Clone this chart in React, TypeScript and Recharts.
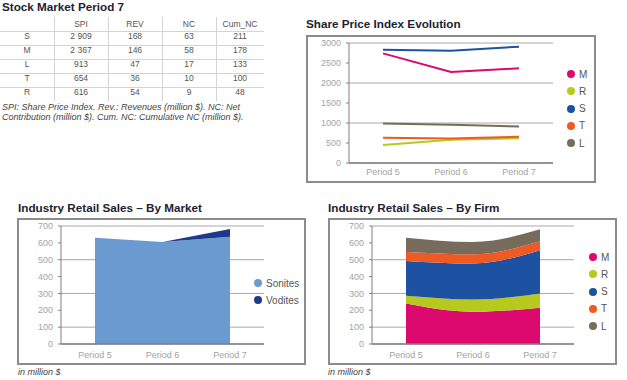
import React from 'react';
import { LineChart, Line, AreaChart, Area, XAxis, YAxis, CartesianGrid, Legend } from 'recharts';

const FONT = "'Liberation Sans', Arial, sans-serif";

// ---------- Stock market table ----------
const tableFirms = ['S', 'M', 'L', 'T', 'R'];
const tableColumns = ['SPI', 'REV', 'NC', 'Cum_NC'];
const tableSpi = [2909, 2367, 913, 654, 616];
const tableRev = [168, 146, 47, 36, 54];
const tableNc = [63, 58, 17, 10, 9];
const tableCumNc = [211, 178, 133, 100, 48];

// ---------- Shared categories ----------
const periods = ['Period 5', 'Period 6', 'Period 7'];

// ---------- Share Price Index Evolution ----------
const spiM = [2740, 2275, 2367];
const spiR = [450, 580, 616];
const spiS = [2830, 2805, 2909];
const spiT = [630, 615, 654];
const spiL = [990, 955, 913];
const spiTicks = [0, 500, 1000, 1500, 2000, 2500, 3000];
const spiMinorTicks = [0, 100, 200, 300, 400, 500, 600, 700, 800, 900, 1000, 1100, 1200, 1300, 1400, 1500, 1600, 1700, 1800, 1900, 2000, 2100, 2200, 2300, 2400, 2500, 2600, 2700, 2800, 2900, 3000];

// ---------- Industry retail sales by market ----------
const sonites = [630, 605, 636];
const vodites = [0, 0, 46];
const salesTicks = [0, 100, 200, 300, 400, 500, 600, 700];
const salesMinorTicks = [0, 20, 40, 60, 80, 100, 120, 140, 160, 180, 200, 220, 240, 260, 280, 300, 320, 340, 360, 380, 400, 420, 440, 460, 480, 500, 520, 540, 560, 580, 600, 620, 640, 660, 680, 700];

// ---------- Industry retail sales by firm ----------
const firmM = [240, 191, 215];
const firmR = [46, 73, 85];
const firmS = [207, 213, 256];
const firmT = [53, 55, 53];
const firmL = [85, 73, 71];

const boundTicks = [0, 1, 2, 3];

const firmColors: Record<string, string> = {
  M: '#dc0a6e',
  R: '#b7c91c',
  S: '#1d51a2',
  T: '#ef5a24',
  L: '#776b5c',
};
const marketColors: Record<string, string> = {
  Sonites: '#6b9ad0',
  Vodites: '#1b3a8c',
};

const spiSeries = [
  { key: 'M', values: spiM },
  { key: 'R', values: spiR },
  { key: 'S', values: spiS },
  { key: 'T', values: spiT },
  { key: 'L', values: spiL },
];
const firmSeries = [
  { key: 'M', values: firmM },
  { key: 'R', values: firmR },
  { key: 'S', values: firmS },
  { key: 'T', values: firmT },
  { key: 'L', values: firmL },
];
const marketSeries = [
  { key: 'Sonites', values: sonites },
  { key: 'Vodites', values: vodites },
];

const buildRows = (series: { key: string; values: number[] }[]) =>
  periods.map((p, i) => {
    const row: Record<string, string | number> = { period: p };
    series.forEach((s) => {
      row[s.key] = s.values[i];
    });
    return row;
  });

const spiData = buildRows(spiSeries);
const firmData = buildRows(firmSeries);
const marketData = buildRows(marketSeries);

const fmt = (n: number) => String(n).replace(/\B(?=(\d{3})+(?!\d))/g, ' ');

const AXIS = '#808080';
const TICK_TEXT = { fill: '#a3a3a3', fontSize: 9, fontFamily: FONT };

const DotLegend = ({ items, gap }: { items: { name: string; color: string }[]; gap: number }) => (
  <div style={{ fontFamily: FONT, fontSize: 10, color: '#555' }}>
    {items.map((it) => (
      <div key={it.name} style={{ display: 'flex', alignItems: 'center', height: gap }}>
        <span
          style={{
            width: 8,
            height: 8,
            borderRadius: '50%',
            background: it.color,
            display: 'inline-block',
            marginRight: 4,
            flex: 'none',
          }}
        />
        <span>{it.name}</span>
      </div>
    ))}
  </div>
);

const Title = ({ text, left, top }: { text: string; left: number; top: number }) => (
  <div
    style={{
      position: 'absolute',
      left,
      top,
      fontFamily: FONT,
      fontWeight: 'bold',
      fontSize: 11.7,
      lineHeight: '12px',
      color: '#1e2230',
      whiteSpace: 'nowrap',
    }}
  >
    {text}
  </div>
);

const Note = ({ text, left, top }: { text: string; left: number; top: number }) => (
  <div
    style={{
      position: 'absolute',
      left,
      top,
      fontFamily: FONT,
      fontStyle: 'italic',
      fontSize: 9,
      lineHeight: '10.3px',
      color: '#444',
      whiteSpace: 'pre',
    }}
  >
    {text}
  </div>
);

const boxStyle = (left: number, top: number, width: number, height: number): React.CSSProperties => ({
  position: 'absolute',
  left,
  top,
  width,
  height,
  border: '2px solid #8c8c8c',
  boxSizing: 'border-box',
  background: '#fff',
});

const StockTable = () => {
  const colLefts = [0, 54, 108, 162, 216];
  const colWidths = [54, 54, 54, 54, 48];
  const columnsData = [tableSpi, tableRev, tableNc, tableCumNc];
  const cellText: React.CSSProperties = {
    position: 'absolute',
    fontFamily: FONT,
    fontSize: 8.5,
    lineHeight: '8.5px',
    color: '#555',
    textAlign: 'center',
    whiteSpace: 'nowrap',
  };
  const headerTop = 19.5;
  const rowTop = (i: number) => 32.3 + i * 14;
  return (
    <>
      {[31, 45, 59, 73, 87].map((y) => (
        <div key={'h' + y} style={{ position: 'absolute', left: 0, top: y, width: 264, height: 1, background: '#d4d4d4' }} />
      ))}
      {[54, 108, 162, 216].map((x) => (
        <div key={'v' + x} style={{ position: 'absolute', left: x, top: 17, width: 1, height: 84, background: '#d4d4d4' }} />
      ))}
      {tableColumns.map((c, ci) => (
        <div key={c} style={{ ...cellText, left: colLefts[ci + 1], width: colWidths[ci + 1], top: headerTop }}>
          {c}
        </div>
      ))}
      {tableFirms.map((f, ri) => (
        <React.Fragment key={f}>
          <div style={{ ...cellText, left: colLefts[0], width: colWidths[0], top: rowTop(ri) }}>{f}</div>
          {columnsData.map((col, ci) => (
            <div key={ci} style={{ ...cellText, left: colLefts[ci + 1], width: colWidths[ci + 1], top: rowTop(ri) }}>
              {fmt(col[ri])}
            </div>
          ))}
        </React.Fragment>
      ))}
    </>
  );
};

export default function App() {
  return (
    <div style={{ position: 'absolute', left: 0, top: 0, width: 627, height: 380, background: '#fff', overflow: 'hidden' }}>
      {/* Table */}
      <Title text="Stock Market Period 7" left={2} top={1} />
      <StockTable />
      <Note
        text={'SPI: Share Price Index. Rev.: Revenues (million $). NC: Net\nContribution (million $). Cum. NC: Cumulative NC (million $).'}
        left={2}
        top={102}
      />

      {/* Share Price Index Evolution */}
      <Title text="Share Price Index Evolution" left={306} top={18} />
      <div style={boxStyle(306, 35, 290, 148)}>
        <LineChart width={286} height={144} data={spiData} margin={{ top: 6, right: 41, bottom: 0, left: 0 }}>
          <CartesianGrid vertical={false} stroke="#a8a8a8" />
          <XAxis
            dataKey="period"
            padding={{ left: 34, right: 34 }}
            height={18}
            interval={0}
            tickLine={false}
            tickSize={3}
            tickMargin={3}
            axisLine={{ stroke: AXIS, strokeWidth: 1.5 }}
            tick={TICK_TEXT}
          />
          <XAxis
            xAxisId="bound"
            type="number"
            domain={[0, 3]}
            ticks={boundTicks}
            mirror
            height={0}
            tickSize={-3}
            tick={false}
            axisLine={false}
            tickLine={{ stroke: AXIS }}
          />
          <YAxis
            domain={[0, 3000]}
            ticks={spiTicks}
            width={41}
            tickSize={3}
            tickMargin={5}
            axisLine={{ stroke: AXIS }}
            tickLine={{ stroke: AXIS }}
            tick={TICK_TEXT}
          />
          <YAxis
            yAxisId="minor"
            domain={[0, 3000]}
            ticks={spiMinorTicks}
            mirror
            width={0}
            tickSize={2}
            tick={false}
            axisLine={false}
            tickLine={{ stroke: AXIS }}
          />
          <Legend
            layout="vertical"
            align="center"
            verticalAlign="middle"
            wrapperStyle={{ left: 259, top: 28.4, width: 30 }}
            content={() => <DotLegend gap={17.3} items={spiSeries.map((s) => ({ name: s.key, color: firmColors[s.key] }))} />}
          />
          {spiSeries.map((s) => (
            <Line
              key={s.key}
              type="linear"
              dataKey={s.key}
              stroke={firmColors[s.key]}
              strokeWidth={2}
              dot={false}
              activeDot={false}
              isAnimationActive={false}
            />
          ))}
        </LineChart>
      </div>

      {/* Industry Retail Sales - By Market */}
      <Title text="Industry Retail Sales – By Market" left={18} top={202} />
      <div style={boxStyle(17, 218, 289, 147)}>
        <AreaChart width={285} height={143} data={marketData} margin={{ top: 6, right: 40, bottom: 0, left: 0 }}>
          <CartesianGrid vertical={false} stroke="#a8a8a8" />
          <XAxis
            dataKey="period"
            padding={{ left: 34, right: 34 }}
            height={19}
            interval={0}
            tickLine={false}
            tickSize={3}
            tickMargin={5}
            axisLine={{ stroke: AXIS, strokeWidth: 1.5 }}
            tick={TICK_TEXT}
          />
          <XAxis
            xAxisId="bound"
            type="number"
            domain={[0, 3]}
            ticks={boundTicks}
            mirror
            height={0}
            tickSize={-3}
            tick={false}
            axisLine={false}
            tickLine={{ stroke: AXIS }}
          />
          <YAxis
            domain={[0, 700]}
            ticks={salesTicks}
            width={42}
            tickSize={3}
            tickMargin={5}
            axisLine={{ stroke: AXIS }}
            tickLine={{ stroke: AXIS }}
            tick={TICK_TEXT}
          />
          <YAxis
            yAxisId="minor"
            domain={[0, 700]}
            ticks={salesMinorTicks}
            mirror
            width={0}
            tickSize={2}
            tick={false}
            axisLine={false}
            tickLine={{ stroke: AXIS }}
          />
          <Legend
            layout="vertical"
            align="center"
            verticalAlign="middle"
            wrapperStyle={{ left: 235, top: 54.5, width: 50 }}
            content={() => <DotLegend gap={17} items={marketSeries.map((s) => ({ name: s.key, color: marketColors[s.key] }))} />}
          />
          {marketSeries.map((s) => (
            <Area
              key={s.key}
              type="linear"
              dataKey={s.key}
              stackId="m"
              fill={marketColors[s.key]}
              fillOpacity={1}
              stroke="none"
              activeDot={false}
              isAnimationActive={false}
            />
          ))}
        </AreaChart>
      </div>
      <Note text="in million $" left={18} top={367} />

      {/* Industry Retail Sales - By Firm */}
      <Title text="Industry Retail Sales – By Firm" left={328} top={202} />
      <div style={boxStyle(328, 218, 289, 147)}>
        <AreaChart width={285} height={143} data={firmData} margin={{ top: 6, right: 41, bottom: 0, left: 0 }}>
          <CartesianGrid vertical={false} stroke="#a8a8a8" />
          <XAxis
            dataKey="period"
            padding={{ left: 34, right: 34 }}
            height={19}
            interval={0}
            tickLine={false}
            tickSize={3}
            tickMargin={5}
            axisLine={{ stroke: AXIS, strokeWidth: 1.5 }}
            tick={TICK_TEXT}
          />
          <XAxis
            xAxisId="bound"
            type="number"
            domain={[0, 3]}
            ticks={boundTicks}
            mirror
            height={0}
            tickSize={-3}
            tick={false}
            axisLine={false}
            tickLine={{ stroke: AXIS }}
          />
          <YAxis
            domain={[0, 700]}
            ticks={salesTicks}
            width={42}
            tickSize={3}
            tickMargin={5}
            axisLine={{ stroke: AXIS }}
            tickLine={{ stroke: AXIS }}
            tick={TICK_TEXT}
          />
          <YAxis
            yAxisId="minor"
            domain={[0, 700]}
            ticks={salesMinorTicks}
            mirror
            width={0}
            tickSize={2}
            tick={false}
            axisLine={false}
            tickLine={{ stroke: AXIS }}
          />
          <Legend
            layout="vertical"
            align="center"
            verticalAlign="middle"
            wrapperStyle={{ left: 259, top: 28.4, width: 30 }}
            content={() => <DotLegend gap={17.3} items={firmSeries.map((s) => ({ name: s.key, color: firmColors[s.key] }))} />}
          />
          {firmSeries.map((s) => (
            <Area
              key={s.key}
              type="monotone"
              dataKey={s.key}
              stackId="f"
              fill={firmColors[s.key]}
              fillOpacity={1}
              stroke="none"
              activeDot={false}
              isAnimationActive={false}
            />
          ))}
        </AreaChart>
      </div>
      <Note text="in million $" left={328} top={367} />
    </div>
  );
}
